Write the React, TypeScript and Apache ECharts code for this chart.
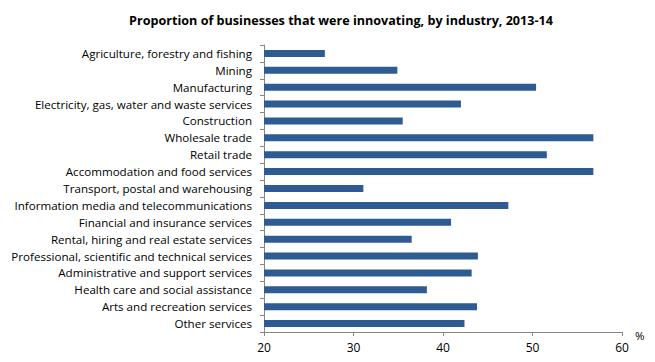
import React, { useEffect, useRef } from "react";
import * as echarts from "echarts";

const categories = [
  "Agriculture, forestry and fishing",
  "Mining",
  "Manufacturing",
  "Electricity, gas, water and waste services",
  "Construction",
  "Wholesale trade",
  "Retail trade",
  "Accommodation and food services",
  "Transport, postal and warehousing",
  "Information media and telecommunications",
  "Financial and insurance services",
  "Rental, hiring and real estate services",
  "Professional, scientific and technical services",
  "Administrative and support services",
  "Health care and social assistance",
  "Arts and recreation services",
  "Other services",
];

const values = [
  26.8, 34.9, 50.4, 42.0, 35.5, 56.8, 51.6, 56.8, 31.1, 47.3, 40.9, 36.5, 43.9,
  43.2, 38.2, 43.8, 42.4,
];

const xTicks = [20, 30, 40, 50, 60];

const FONT = "'Open Sans', 'Liberation Sans', sans-serif";

export default function App() {
  const ref = useRef<HTMLDivElement>(null);
  useEffect(() => {
    if (!ref.current) return;
    const chart = echarts.init(ref.current, null, { renderer: "svg" });
    chart.setOption({
      animation: false,
      backgroundColor: "#ffffff",
      title: {
        text: "Proportion of businesses that were innovating, by industry, 2013-14",
        left: 336,
        textAlign: "center",
        top: 9,
        textStyle: {
          fontFamily: FONT,
          fontSize: 12.6,
          fontWeight: "bold",
          color: "#000000",
        },
      },
      grid: { left: 264, right: 33, top: 45, bottom: 30, containLabel: false },
      xAxis: {
        type: "value",
        min: xTicks[0],
        max: xTicks[xTicks.length - 1],
        interval: 10,
        name: "%",
        nameLocation: "end",
        nameGap: 13,
        nameTextStyle: {
          fontFamily: FONT,
          fontSize: 11.5,
          color: "#000",
          verticalAlign: "top",
          padding: [-3, 0, 0, 0],
        },
        axisLine: { show: true, lineStyle: { color: "#868686", width: 1 } },
        axisTick: { show: true, length: 4, lineStyle: { color: "#868686" } },
        axisLabel: {
          fontFamily: FONT,
          fontSize: 12,
          color: "#000",
          margin: 9,
        },
        splitLine: { show: false },
      },
      yAxis: {
        type: "category",
        data: categories,
        inverse: true,
        axisLine: { show: true, lineStyle: { color: "#868686", width: 1 } },
        axisTick: {
          show: true,
          length: 4,
          alignWithLabel: false,
          lineStyle: { color: "#868686" },
        },
        axisLabel: {
          fontFamily: FONT,
          fontSize: 11.6,
          color: "#000",
          margin: 12,
          interval: 0,
        },
      },
      series: [
        {
          type: "bar",
          data: values,
          barWidth: 7,
          itemStyle: { color: "#2E5C92" },
        },
      ],
    });
    return () => chart.dispose();
  }, []);
  return <div ref={ref} style={{ width: 655, height: 362, margin: -8 }} />;
}
